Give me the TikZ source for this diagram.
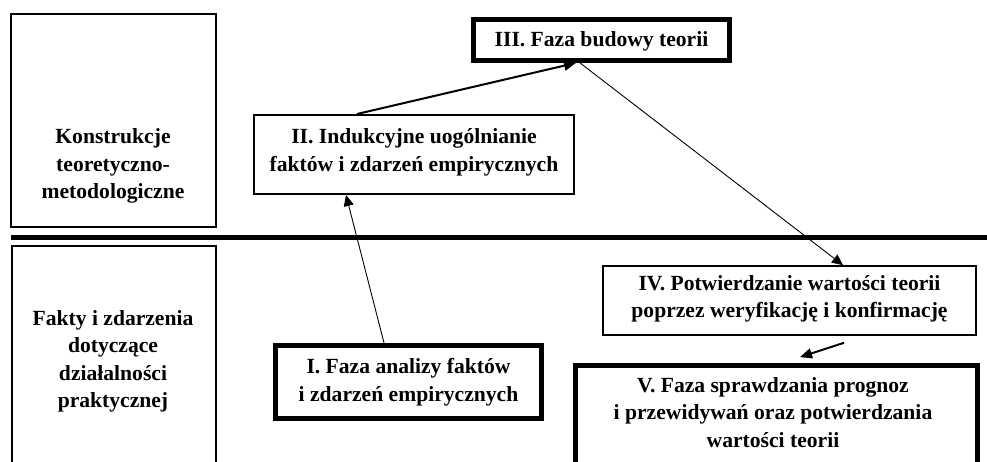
\documentclass[tikz,border=0pt]{standalone}
\usepackage{fontspec}
\setmainfont{Liberation Serif}
\usetikzlibrary{arrows.meta,calc}

\tikzset{
  frame/.style={draw, rectangle, inner sep=0pt, line width=1.6pt},
  boldframe/.style={draw, rectangle, inner sep=0pt, line width=4.8pt},
  caption/.style={align=center, inner sep=0pt,
    font=\fontsize{21.6pt}{27.5pt}\selectfont\bfseries},
  thinarrow/.style={line width=0.9pt, -{Triangle[length=11pt,width=10pt]}},
  thickarrow/.style={line width=2pt, -{Triangle[length=12pt,width=10pt]}},
  divider/.style={line width=5pt}
}

\begin{document}
\begin{tikzpicture}[x=1pt,y=-1pt]
  \useasboundingbox (0,0) rectangle (987,461);
  \clip (0,0) rectangle (987,461);
  \fill[white] (0,0) rectangle (987,461);

  % level boxes on the left
  \node[frame, minimum width=205.4pt, minimum height=213.4pt] (theory) at (113.5,120.5) {};
  \node[frame, minimum width=204.4pt, minimum height=254.2pt] (practice) at (114,372.9) {};
  \node[caption] (ttheory) at (113,166) {Konstrukcje\\teoretyczno-\\metodologiczne};
  \node[caption] (tpractice) at (113,361.5) {Fakty i zdarzenia\\dotyczące\\działalności\\praktycznej};

  % dividing rule between the two levels
  \coordinate (ruleL) at (11,237.5);
  \coordinate (ruleR) at (987,237.5);
  \draw[divider] (ruleL) -- (ruleR);

  % phase boxes
  \node[boldframe, minimum width=256pt, minimum height=41pt] (boxIII) at (601.5,40) {};
  \node[frame, minimum width=320.4pt, minimum height=79.4pt] (boxII) at (414,154.5) {};
  \node[boldframe, minimum width=266.5pt, minimum height=73.5pt] (boxI) at (408.5,382) {};
  \node[frame, minimum width=373pt, minimum height=69pt] (boxIV) at (789.5,300.5) {};
  \node[boldframe, minimum width=402pt, minimum height=134.5pt] (boxV) at (776.5,432.75) {};

  \node[caption] (tIII) at (601.5,41.5) {III. Faza budowy teorii};
  \node[caption] (tII) at (414,152.5) {II. Indukcyjne uogólnianie\\faktów i zdarzeń empirycznych};
  \node[caption] (tI) at (408.5,382) {I. Faza analizy faktów\\i zdarzeń empirycznych};
  \node[caption] (tIV) at (789.5,299) {IV. Potwierdzanie wartości teorii\\poprzez weryfikację i konfirmację};
  \node[caption] (tV) at (773,412.5) {V. Faza sprawdzania prognoz\\i przewidywań oraz potwierdzania\\wartości teorii};

  % connectors
  \draw[thinarrow] ([xshift=-24.5pt]boxI.north) -- ([xshift=-68pt]boxII.south);
  \draw[thickarrow] ([xshift=-57pt]boxII.north) -- ([xshift=-25.5pt]boxIII.south);
  \draw[thinarrow] ([xshift=-21.5pt]boxIII.south) -- ([xshift=53.5pt]boxIV.north);
  \coordinate (fromIV) at ($(boxIV.south)+(54.5,7)$);
  \coordinate (toV) at ($(boxV.north)+(23.5,-6)$);
  \draw[thickarrow] (fromIV) -- (toV);
\end{tikzpicture}
\end{document}
